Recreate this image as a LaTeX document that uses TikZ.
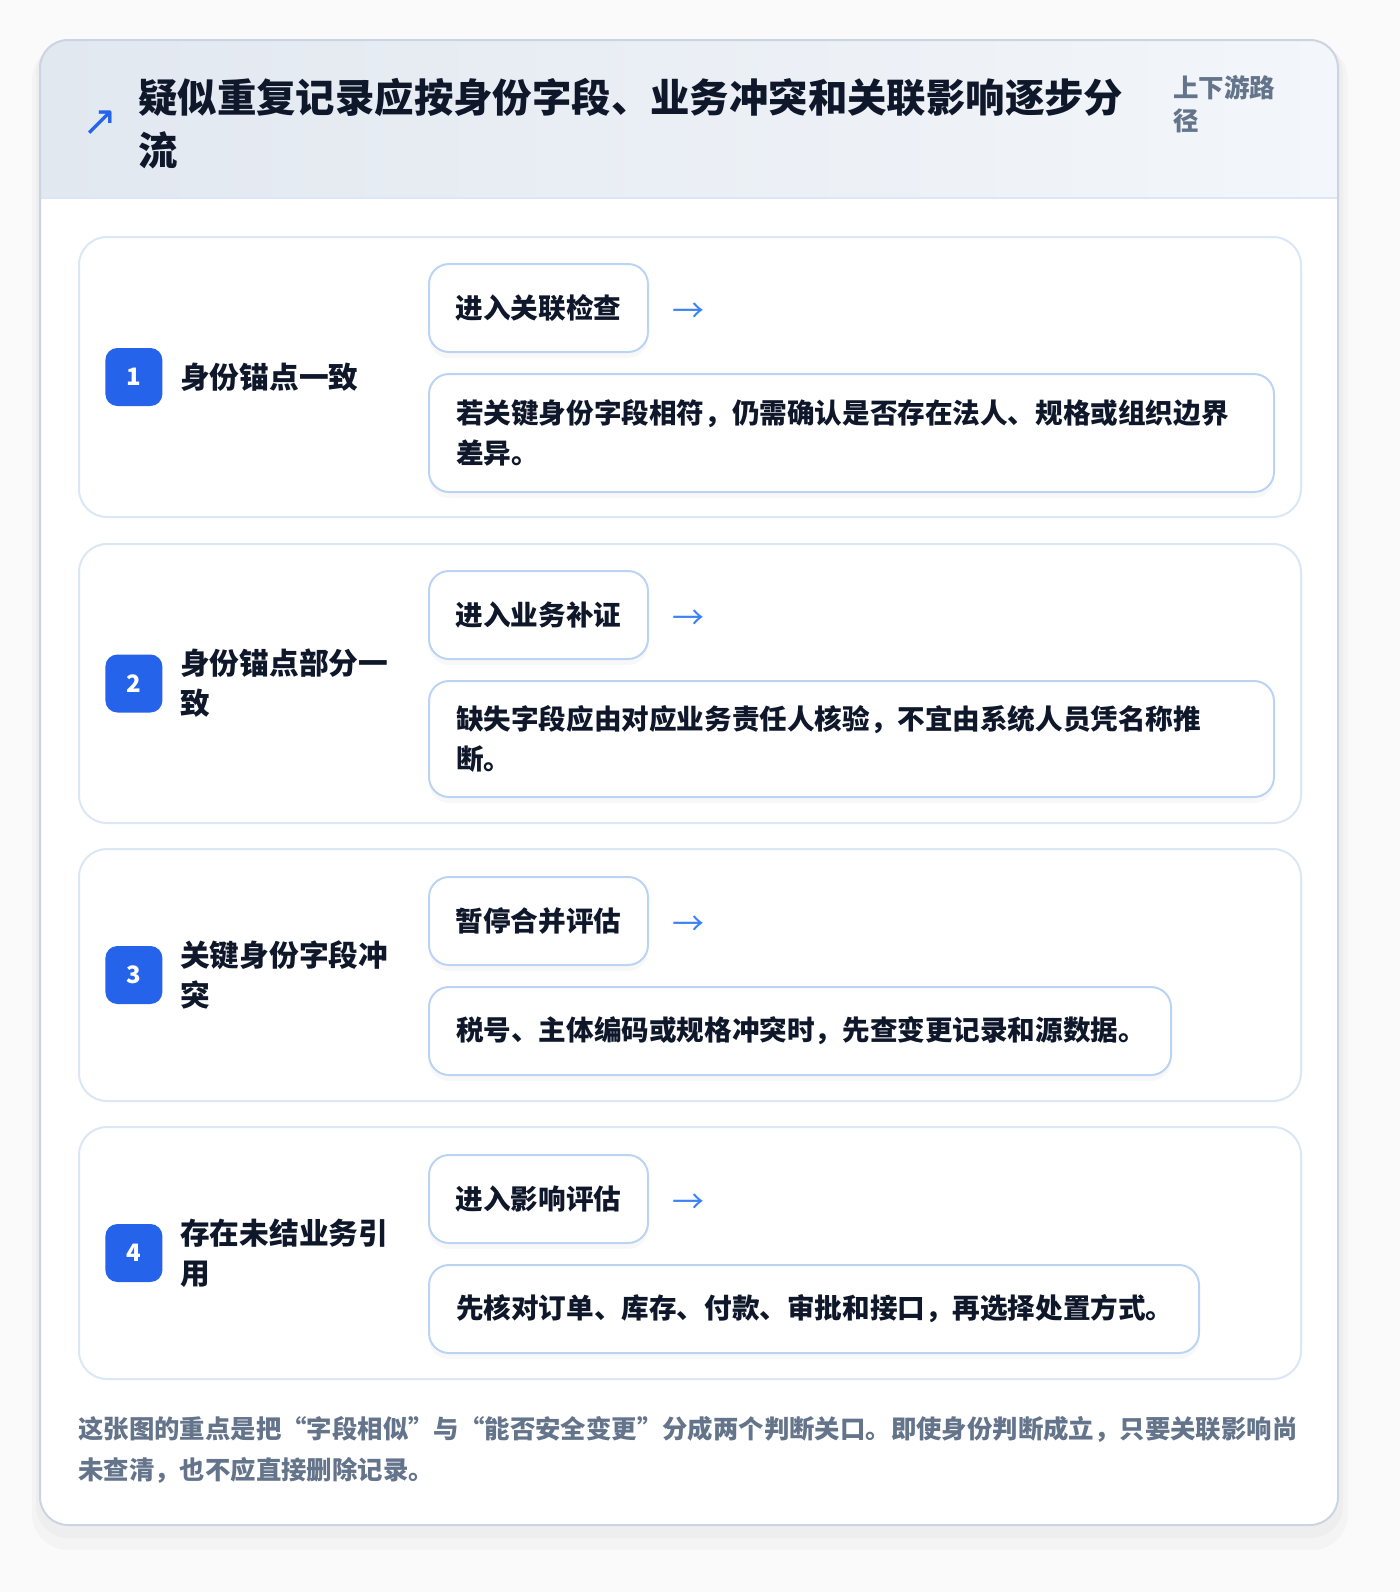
\documentclass[tikz,border=0pt]{standalone}
\usepackage{fontspec}
\setmainfont{Noto Sans CJK SC}
\newfontfamily\symfont{DejaVu Sans}
\usetikzlibrary{positioning, shadows}
\definecolor{brand}{HTML}{2563EB}
\definecolor{brandlight}{HTML}{3B82F6}
\definecolor{ink}{HTML}{0F172A}
\definecolor{muted}{HTML}{64748B}
\definecolor{cardline}{HTML}{DCE7F5}
\definecolor{pillline}{HTML}{BCD4F4}
\definecolor{frameline}{HTML}{CBD5E1}
\definecolor{headleft}{HTML}{E2E8F0}
\definecolor{headright}{HTML}{F3F6FA}
\definecolor{pagefill}{HTML}{FAFAFB}
\tikzstyle{stepcard} = [rectangle, anchor=north west, rounded corners=14pt, draw=cardline, line width=1pt, fill=white, minimum width=611pt]
\tikzstyle{badge} = [rectangle, rounded corners=6pt, fill=brand, text=white, minimum width=28.5pt, minimum height=29pt, inner sep=0pt, font=\bfseries\fontsize{12}{12}\selectfont]
\tikzstyle{steplabel} = [anchor=west, align=left, inner sep=0pt, text=ink, font=\bfseries\fontsize{14.85}{20}\selectfont]
\tikzstyle{pill} = [rectangle, anchor=north west, rounded corners=10pt, draw=pillline, line width=1pt, fill=white, minimum width=109.5pt, minimum height=44pt, text=ink, font=\bfseries\fontsize{13.8}{20}\selectfont, drop shadow={opacity=0.05, shadow xshift=0pt, shadow yshift=-3pt}]
\tikzstyle{detail} = [rectangle, rounded corners=10pt, draw=pillline, line width=1pt, fill=white, align=left, inner xsep=13.5pt, text=ink, font=\bfseries\fontsize{13.8}{20}\selectfont, drop shadow={opacity=0.05, shadow xshift=0pt, shadow yshift=-3pt}]
\tikzstyle{nextarrow} = [inner sep=0pt, yshift=-2.5pt, text=brandlight, font=\fontsize{16}{16}\selectfont]

\begin{document}
\begin{tikzpicture}[x=0.5pt, y=-0.5pt]
	\useasboundingbox (0,0) rectangle (1400,1592);
	\fill [pagefill] (0,0) rectangle (1400,1592);
	\fill [black, opacity=0.025, rounded corners=18pt] (32,44) rectangle (1348,1550);
	\fill [black, opacity=0.025, rounded corners=16pt] (36,42) rectangle (1343,1538);
	\begin{scope}
		\clip [rounded corners=14pt] (40,40) rectangle (1338,1525);
		\fill [white] (40,40) rectangle (1338,1525);
		\shade [left color=headleft, right color=headright] (40,40) rectangle (1338,198);
	\end{scope}
	\draw [cardline, line width=1pt] (40,198) -- (1338,198);
	\draw [frameline, line width=1pt, rounded corners=14pt] (40,40) rectangle (1338,1525);

	\node (icon) [inner sep=0pt, text=brand, font=\symfont\fontsize{21}{21}\selectfont] at (100,123) {↗};
	\node (title) [anchor=west, align=left, inner sep=0pt, text=ink, font=\bfseries\fontsize{19.7}{26.5}\selectfont] at (138,123.5) {疑似重复记录应按身份字段、业务冲突和关联影响逐步分\\流};
	\node (path) [anchor=west, align=left, inner sep=0pt, text=muted, font=\bfseries\fontsize{12.75}{16.5}\selectfont] at (1173,104.5) {上下游路\\径};

	\node (card1) [stepcard, minimum height=140pt] at (78,236) {};
	\node (badge1) [badge, right=13.5pt of card1.west] {1};
	\node (name1) [steplabel, right=8.5pt of badge1] {身份锚点一致};
	\node (gate1) [pill] at (428,263) {进入关联检查};
	\node (next1) [nextarrow, right=11.5pt of gate1] {→};
	\node (note1) [detail, below=10pt of gate1.south west, anchor=north west, text width=395.5pt, minimum height=59pt] {若关键身份字段相符，仍需确认是否存在法人、规格或组织边界\\差异。};

	\node (card2) [stepcard, minimum height=139.5pt] at (78,543) {};
	\node (badge2) [badge, right=13.5pt of card2.west] {2};
	\node (name2) [steplabel, right=8.5pt of badge2] {身份锚点部分一\\致};
	\node (gate2) [pill] at (428,570) {进入业务补证};
	\node (next2) [nextarrow, right=11.5pt of gate2] {→};
	\node (note2) [detail, below=10pt of gate2.south west, anchor=north west, text width=395.5pt, minimum height=58pt] {缺失字段应由对应业务责任人核验，不宜由系统人员凭名称推\\断。};

	\node (card3) [stepcard, minimum height=126pt] at (78,848) {};
	\node (badge3) [badge, right=13.5pt of card3.west] {3};
	\node (name3) [steplabel, right=8.5pt of badge3] {关键身份字段冲\\突};
	\node (gate3) [pill] at (428,876) {暂停合并评估};
	\node (next3) [nextarrow, right=11.5pt of gate3] {→};
	\node (note3) [detail, below=10pt of gate3.south west, anchor=north west, text width=344pt, minimum height=44pt] {税号、主体编码或规格冲突时，先查变更记录和源数据。};

	\node (card4) [stepcard, minimum height=126pt] at (78,1126) {};
	\node (badge4) [badge, right=13.5pt of card4.west] {4};
	\node (name4) [steplabel, right=8.5pt of badge4] {存在未结业务引\\用};
	\node (gate4) [pill] at (428,1154) {进入影响评估};
	\node (next4) [nextarrow, right=11.5pt of gate4] {→};
	\node (note4) [detail, below=10pt of gate4.south west, anchor=north west, text width=358pt, minimum height=44pt] {先核对订单、库存、付款、审批和接口，再选择处置方式。};

	\node (summary) [anchor=west, align=left, inner sep=0pt, text=muted, font=\bfseries\fontsize{12.7}{20.5}\selectfont] at (78,1449.5) {这张图的重点是把“字段相似”与“能否安全变更”分成两个判断关口。即使身份判断成立，只要关联影响尚\\未查清，也不应直接删除记录。};
\end{tikzpicture}
\end{document}
